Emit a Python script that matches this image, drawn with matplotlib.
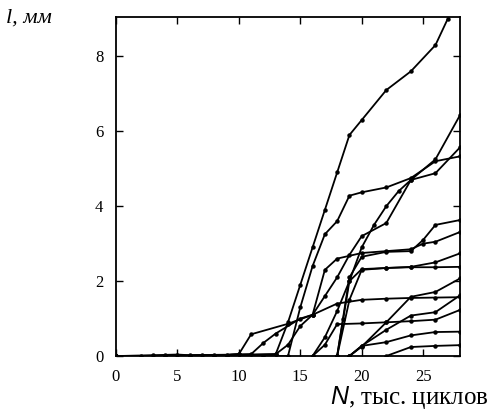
import numpy as np
import matplotlib.pyplot as plt

plt.rcParams['font.family'] = ['Liberation Serif', 'DejaVu Serif']
plt.rcParams['mathtext.fontset'] = 'custom'
plt.rcParams['mathtext.it'] = 'Liberation Sans:italic'

# crack length l (mm) against number of cycles N (thousands), one list per specimen
N_base = [0, 2, 3, 4, 5, 6, 7, 8, 9, 10]
l_base = [0, 0.01, 0.02, 0.03, 0.04, 0.02, 0.03, 0.02, 0.03, 0.05]

N1 = [0, 4, 8, 10, 11, 14, 16, 18, 20, 22, 24, 26, 28]
l1 = [0, 0, 0, 0.05, 0.58, 0.86, 1.1, 1.4, 1.5, 1.53, 1.55, 1.56, 1.57]

N2 = [0, 6, 11, 12, 13, 15, 16, 17, 18, 20, 22, 24, 25, 26, 28]
l2 = [0, 0, 0.05, 0.35, 0.6, 1.0, 1.1, 2.3, 2.6, 2.75, 2.8, 2.85, 3.0, 3.05, 3.31]

N3 = [0, 9, 13, 14, 15, 16, 17, 18, 19, 20, 22, 24, 26, 27, 28]
l3 = [0, 0, 0.05, 0.9, 1.9, 2.9, 3.9, 4.9, 5.9, 6.3, 7.1, 7.6, 8.3, 9.0, 9.6]

N4 = [0, 12, 14, 15, 16, 17, 18, 19, 20, 22, 24, 26, 28]
l4 = [0, 0, 0.0, 1.3, 2.4, 3.25, 3.6, 4.28, 4.37, 4.5, 4.75, 5.2, 5.33]

N5 = [0, 13, 14, 15, 16, 17, 18, 19, 20, 22, 24, 26, 28]
l5 = [0, 0.05, 0.3, 0.8, 1.1, 1.6, 2.1, 2.7, 3.2, 3.55, 4.7, 5.25, 6.43]

N6 = [16, 17, 18, 19, 20, 21, 22, 23, 24, 26, 28]
l6 = [0, 0.5, 1.2, 2.0, 2.9, 3.5, 4.0, 4.4, 4.7, 4.88, 5.57]

N7 = [18, 19, 20, 22, 24, 25, 26, 28]
l7 = [0, 2.1, 2.65, 2.78, 2.8, 3.1, 3.5, 3.63]

N8 = [18, 19, 20, 22, 24, 26, 28]
l8 = [0, 1.5, 2.3, 2.35, 2.38, 2.5, 2.74]

N9 = [18, 18.5, 19, 20, 22, 24, 26, 28]
l9 = [0, 1.0, 2.0, 2.32, 2.35, 2.37, 2.37, 2.38]

N10 = [19, 20, 22, 24, 26, 28]
l10 = [0, 0.25, 0.9, 1.58, 1.71, 2.07]

N11 = [16, 17, 18, 20, 22, 24, 26, 28]
l11 = [0, 0.3, 0.85, 0.87, 0.9, 0.93, 0.97, 1.23]

N12 = [19, 20, 22, 24, 26, 28]
l12 = [0, 0.27, 0.7, 1.08, 1.17, 1.62]

N13 = [19, 20, 22, 24, 26, 28]
l13 = [0, 0.27, 0.37, 0.55, 0.64, 0.65]

N14 = [22, 24, 26, 28]
l14 = [0, 0.24, 0.27, 0.29]

series = [(N_base, l_base), (N1, l1), (N2, l2), (N3, l3), (N4, l4), (N5, l5),
          (N6, l6), (N7, l7), (N8, l8), (N9, l9), (N10, l10), (N11, l11),
          (N12, l12), (N13, l13), (N14, l14)]

fig = plt.figure(figsize=(4.9, 4.11), dpi=100)
ax = fig.add_axes([0.2367, 0.1338, 0.7021, 0.8248])

for N, l in series:
    ax.plot(N, l, color='black', lw=1.3, marker='o', ms=2.2, clip_on=True)

ax.set_xlim(0, 28)
ax.set_ylim(0, 9.05)
ax.set_xticks([0, 5, 10, 15, 20, 25])
ax.set_yticks([0, 2, 4, 6, 8])
ax.tick_params(direction='in', length=5, width=1, top=True, right=True,
               labelsize=12, pad=9)
for s in ax.spines.values():
    s.set_linewidth(1.3)

fig.text(0.012, 0.955, 'l, мм', fontsize=16, style='italic', va='center', ha='left')
fig.text(0.997, 0.032, r'$\mathit{N}$, тыс. циклов', fontsize=18, ha='right', va='center')

fig.savefig('out.png', dpi=100)
